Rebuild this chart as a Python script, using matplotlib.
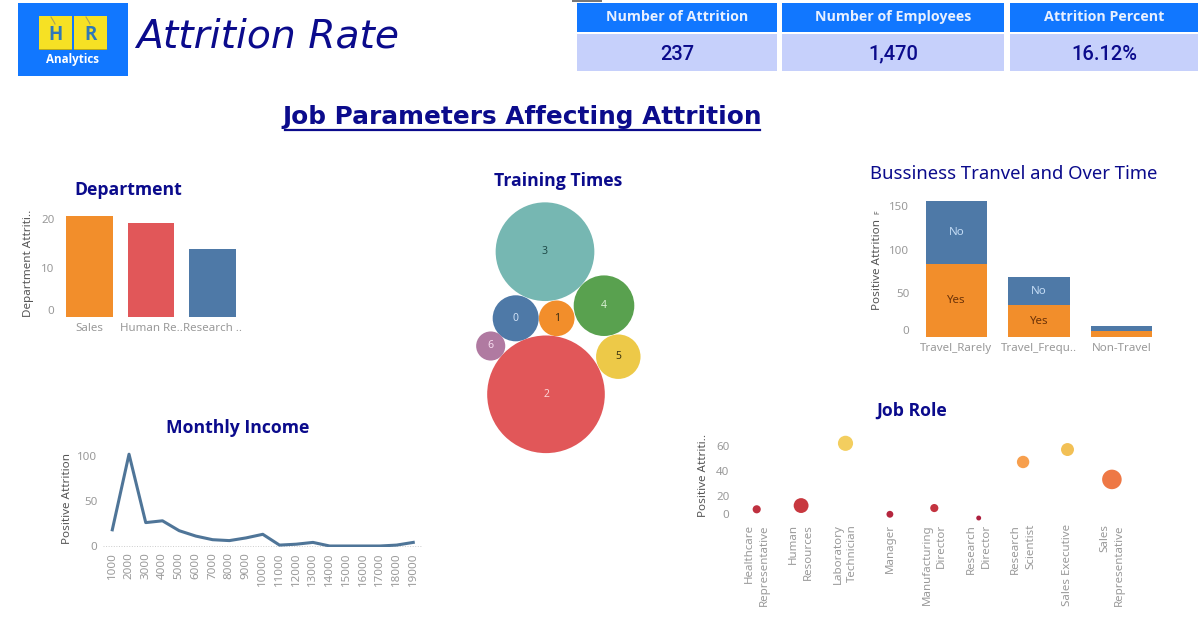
#!/usr/bin/env python
"""HR analytics dashboard - job parameters affecting attrition."""
import numpy as np
import matplotlib
from matplotlib.colors import LinearSegmentedColormap, Normalize
from matplotlib.patches import Circle, Rectangle

matplotlib.use("Agg")
import matplotlib.pyplot as plt  # noqa: E402

W, H = 1200, 623
NAVY = "#0b0b8c"; HEAD = "#1177ff"; CELL = "#c6d0fb"
TICK = "#999999"; AXLAB = "#555555"; FONT = "Noto Sans"; BOLD = "Open Sans"
BLUE = "#4e79a7"; ORANGE = "#f28e2b"; RED = "#e15759"

kpi_names = ["Number of Attrition", "Number of Employees", "Attrition Percent"]
kpi_values = ["237", "1,470", "16.12%"]

dept_names = ["Sales", "Human Re..", "Research .."]
dept_rate = [20.6, 19.05, 13.84]

training_times = ["0", "1", "2", "3", "4", "5", "6"]
training_attrition = [15, 9, 98, 69, 26, 14, 6]

travel_names = ["Travel_Rarely", "Travel_Frequ..", "Non-Travel"]
travel_yes = [84, 36, 6]
travel_no = [72, 33, 6]

income_bins = list(range(1000, 20000, 1000))
income_attrition = [18, 102, 26, 28, 17, 11, 7, 6, 9, 13, 1, 2, 4, 0, 0, 0, 0, 1, 4]

role_names = ["Healthcare\nRepresentative", "Human\nResources", "Laboratory\nTechnician",
              "Manager", "Manufacturing\nDirector", "Research\nDirector",
              "Research\nScientist", "Sales Executive", "Sales\nRepresentative"]
role_attrition = [9, 12, 62, 5, 10, 2, 47, 57, 33]
role_rate = [6.9, 23.0, 23.9, 4.9, 6.9, 2.5, 16.0, 17.5, 39.8]

# pixel layout of the packed bubbles, same order as training_times
BUBBLE_XY = [(515.7, 318.3), (556.7, 318.3), (546, 394.3), (545, 251.7),
             (604, 305.7), (618.3, 356.7), (490.7, 346)]
BUBBLE_COL = [BLUE, ORANGE, RED, "#76b7b2", "#59a14f", "#edc948", "#b07aa1"]
BUBBLE_TXT = ["#cfe0f5", "#3a2a10", "#fbd5d5", "#1f4a48", "#d5efd0", "#3d3510", "#f7dcef"]

fig = plt.figure(figsize=(W / 100, H / 100), dpi=100, facecolor="white")

# full figure overlay in reference pixels, y going down
ov = fig.add_axes([0, 0, 1, 1], zorder=5)
ov.set_xlim(0, W); ov.set_ylim(H, 0); ov.axis("off"); ov.patch.set_alpha(0)


def box(x0, y0, x1, y1, color, **kw):
    ov.add_patch(Rectangle((x0, y0), x1 - x0, y1 - y0, facecolor=color, edgecolor="none", **kw))


def chart_ax(left, top, right, bottom, x_px, x_step, y_px, y_step):
    """axes on a pixel box; data x=0 sits at x_px, y=0 at y_px, steps are px per unit"""
    ax = fig.add_axes([left / W, 1 - bottom / H, (right - left) / W, (bottom - top) / H])
    ax.set_xlim((left - x_px) / x_step, (right - x_px) / x_step)
    ax.set_ylim((y_px - bottom) / y_step, (y_px - top) / y_step)
    for s in ax.spines.values():
        s.set_visible(False)
    ax.tick_params(length=0, labelcolor=TICK, labelsize=8.3, pad=4)
    ax.patch.set_alpha(0)
    return ax


def finish(ax, ylabel, lab_x, lab_y, lift_zero=True):
    ax.set_ylabel(ylabel, fontsize=8.4, color=AXLAB, family=FONT, va="center")
    ax.yaxis.set_label_coords(lab_x, lab_y, transform=ov.transData)
    for lab in ax.get_xticklabels() + ax.get_yticklabels():
        lab.set_family(FONT)
    # lowest y label sits above the baseline in the original
    if lift_zero:
        ax.get_yticklabels()[0].set_va("bottom")


# header: logo
box(18, 3, 128, 76, HEAD)
box(39, 16, 72, 50, "#b9a91c")
box(74, 16, 107, 50, "#b9a91c")
box(39, 16, 72, 49, "#f6e124")
box(74, 16, 107, 49, "#f6e124")
ov.plot([51, 54, 55], [17, 22, 24], color="#a8a05a", lw=0.8)
ov.plot([86, 89, 90], [17, 22, 24], color="#a8a05a", lw=0.8)
ov.text(55.5, 35, "H", color="#2f78b8", fontsize=13.5, fontweight="bold", family=BOLD, ha="center", va="center")
ov.text(90.5, 35, "R", color="#2f78b8", fontsize=13.5, fontweight="bold", family=BOLD, ha="center", va="center")
ov.text(73, 59.5, "Analytics", color="white", fontsize=8.4, fontweight="bold", family=BOLD, ha="center", va="center")
ov.text(136, 37, "Attrition Rate", color=NAVY, fontsize=28.3, family="DejaVu Sans", style="oblique", ha="left", va="center")

# header: kpi tiles
box(572, 0, 602, 1.5, "#777777")
for (x0, x1), name, val in zip([(577, 777), (782, 1004), (1010, 1198)], kpi_names, kpi_values):
    box(x0, 3, x1, 32, HEAD)
    box(x0, 34, x1, 71, CELL)
    ov.text((x0 + x1) / 2, 17, name, color="#e8f0ff", fontsize=10.3, fontweight="bold", family=BOLD, ha="center", va="center")
    ov.text((x0 + x1) / 2, 54, val, color=NAVY, fontsize=14.5, fontweight="medium", family="Roboto", ha="center", va="center")

# section heading with underline
ov.text(522, 117, "Job Parameters Affecting Attrition", color=NAVY, fontsize=17.8, fontweight="bold",
        family="DejaVu Sans", ha="center", va="center")
ov.plot([285, 760], [129.5, 129.5], color=NAVY, lw=1.6)

for x, y, txt in [(128.5, 190, "Department"), (558, 181, "Training Times"),
                  (237.5, 428, "Monthly Income"), (912, 411, "Job Role")]:
    ov.text(x, y, txt, color=NAVY, fontsize=12.7, fontweight="bold", family=BOLD, ha="center", va="center")
ov.text(1014, 174, "Bussiness Tranvel and Over Time", color=NAVY, fontsize=13.3, family=FONT, ha="center", va="center")

# department bars
ax = chart_ax(60, 205, 245, 317, 89.5, 61.5, 316.7, 4.9)
ax.bar(range(3), dept_rate, width=0.76, color=[ORANGE, RED, BLUE])
ax.set_xticks(range(3), dept_names)
ax.set_yticks([0, 10, 20])
finish(ax, "Department Attriti..", 29, 263)

# training times bubbles, area follows the count
ax = fig.add_axes([460 / W, 1 - 465 / H, 200 / W, 270 / H])
ax.set_xlim(460, 660); ax.set_ylim(465, 195); ax.axis("off")
for t, n, (x, y), c, tc in zip(training_times, training_attrition, BUBBLE_XY, BUBBLE_COL, BUBBLE_TXT):
    ax.add_patch(Circle((x, y), np.sqrt(35.3 * n), facecolor=c, edgecolor="none"))
    ax.text(x, y, t, color=tc, fontsize=7.5, family=FONT, ha="center", va="center")

# business travel stacked bars
ax = chart_ax(915, 195, 1165, 337, 956.5, 82.5, 336.7, 0.87)
ax.bar(range(3), travel_yes, width=0.75, color=ORANGE)
ax.bar(range(3), travel_no, width=0.75, bottom=travel_yes, color=BLUE)
for i in range(2):
    ax.text(i, travel_yes[i] / 2, "Yes", color="#6b3208", fontsize=8.3, family=FONT, ha="center", va="center")
    ax.text(i, travel_yes[i] + travel_no[i] / 2, "No", color="#c4dcf5", fontsize=8.3, family=FONT, ha="center", va="center")
ax.set_xticks(range(3), travel_names)
ax.set_yticks([0, 50, 100, 150])
finish(ax, "Positive Attrition", 878, 265)
ov.text(878, 212, "F", color="#555555", fontsize=5, rotation=90, family=FONT, ha="center", va="center")

# monthly income line
ax = chart_ax(103, 445, 422, 546.5, 95.58, 0.01672, 546, 0.9)
ax.axhline(0, color="#cccccc", lw=0.7, ls=":", zorder=1)
ax.plot(income_bins, income_attrition, color="#4f7598", lw=2.2, zorder=2)
ax.set_xticks(income_bins, [str(b) for b in income_bins], rotation=90)
ax.set_yticks([0, 50, 100])
finish(ax, "Positive Attrition", 67, 499, lift_zero=False)

# job role bubbles, colour by attrition and size by rate
cmap = LinearSegmentedColormap.from_list("sunset", [(0, "#ad1f3e"), (0.167, "#c8383f"), (0.517, "#ee7845"),
                                                     (0.75, "#f79e4d"), (0.917, "#f2c055"), (1, "#f3ce5f")])
ax = chart_ax(735, 435, 1130, 524, 756.7, 44.4, 520.5, 1.245)
ax.scatter(range(9), role_attrition, s=[(2 * 0.72) ** 2 * 2.4 * r for r in role_rate],
           c=role_attrition, cmap=cmap, norm=Normalize(2, 62), linewidths=0, clip_on=False)
ax.set_xticks(range(9), role_names, rotation=90, ma="right", linespacing=1.45)
ax.tick_params(axis="x", pad=0)
ax.set_yticks([0, 20, 40, 60])
finish(ax, "Positive Attriti..", 704, 475)

fig.savefig("out.png", dpi=100, facecolor="white")
